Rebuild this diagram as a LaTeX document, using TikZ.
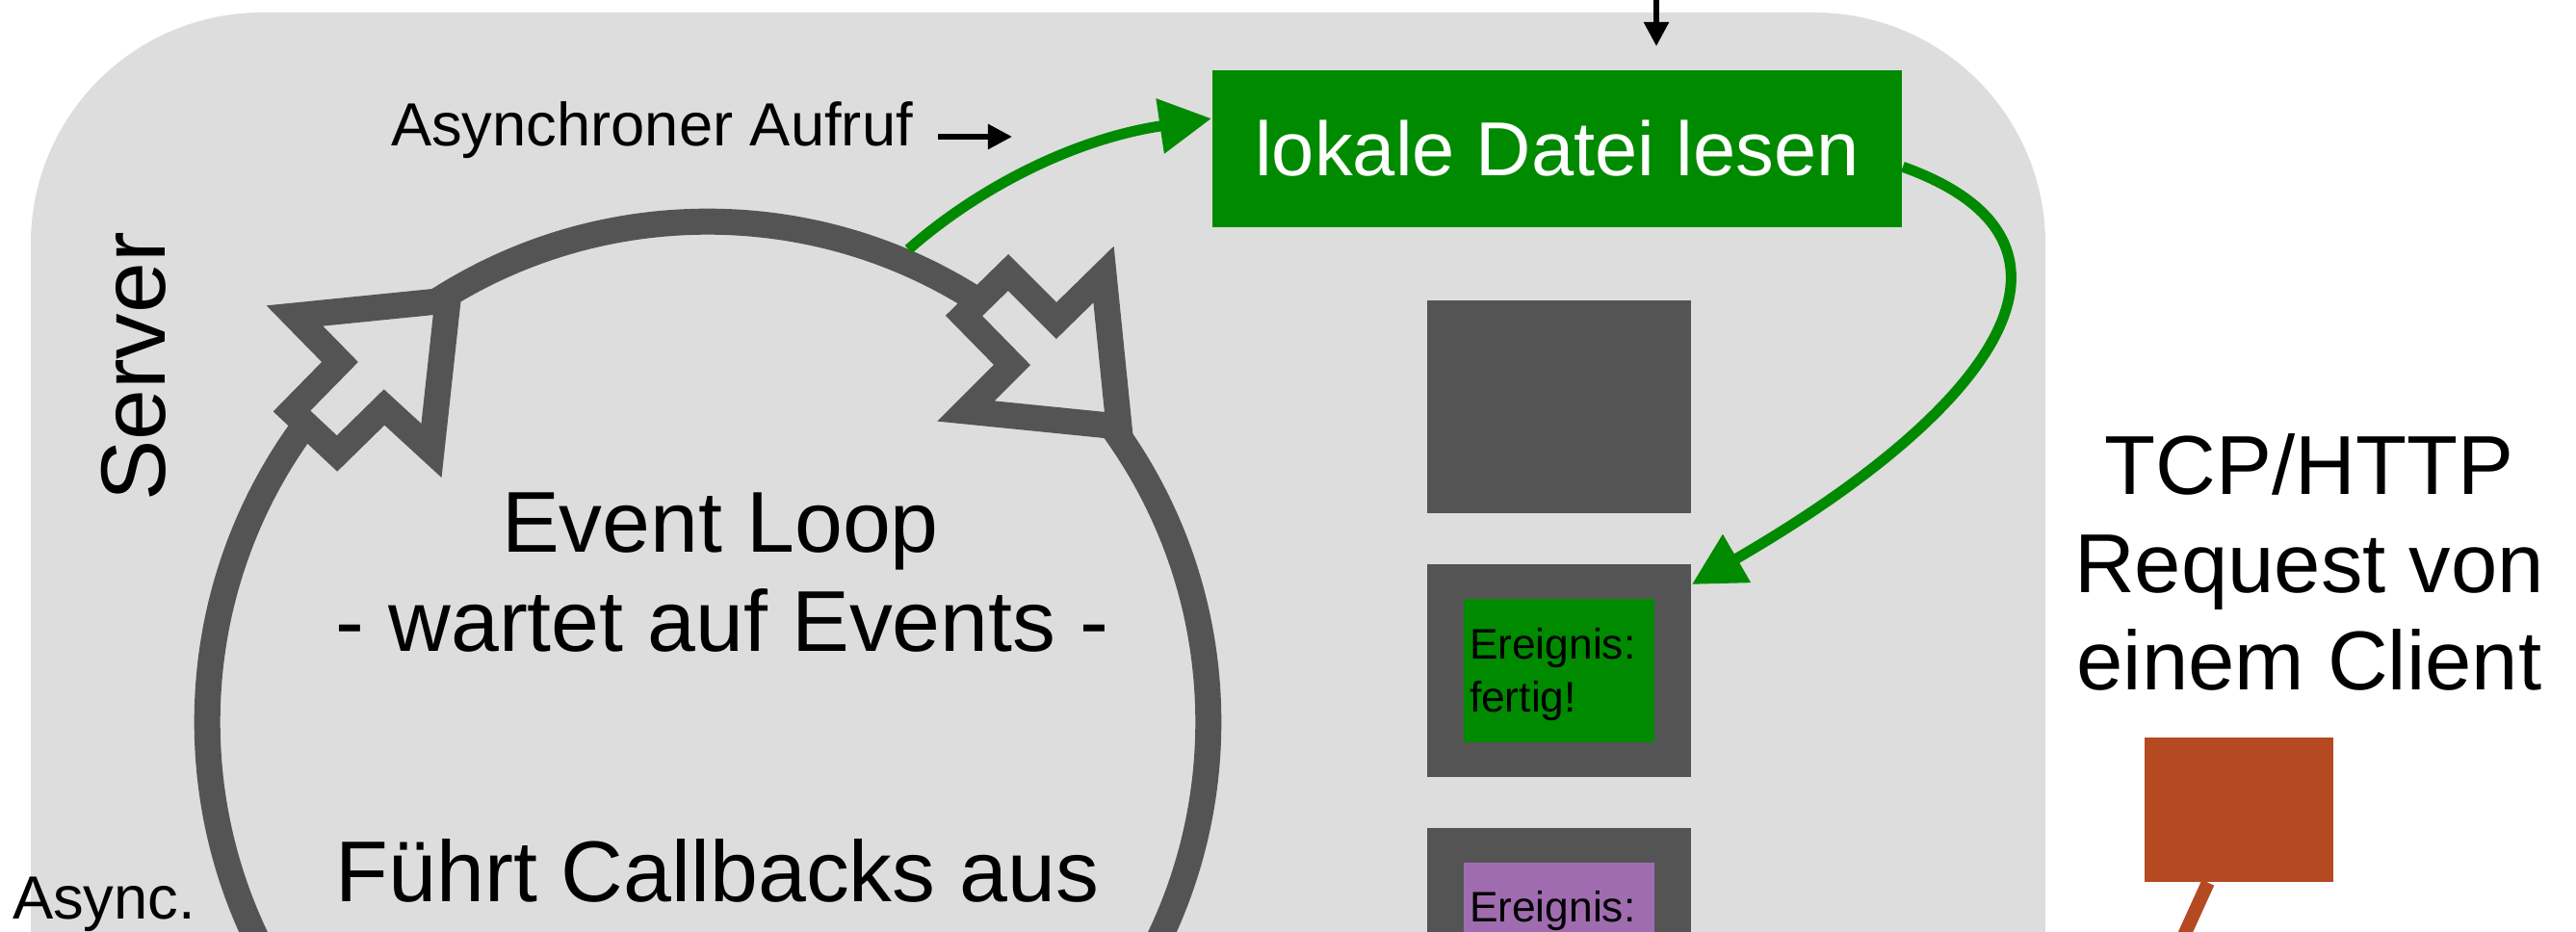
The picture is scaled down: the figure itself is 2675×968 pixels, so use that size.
\documentclass[tikz,border=0pt]{standalone}
\usepackage{fontspec}
\setmainfont{Liberation Sans}
\usetikzlibrary{arrows.meta}
\definecolor{panelgray}{RGB}{221,221,221}
\definecolor{loopgray}{RGB}{84,84,84}
\definecolor{arrgreen}{RGB}{0,138,0}
\definecolor{evpurple}{RGB}{160,108,176}
\definecolor{clientred}{RGB}{181,73,33}
\newcommand{\myfs}[1]{\fontsize{#1}{#1}\selectfont}
\begin{document}
\begin{tikzpicture}[x=0.01cm, y=-0.01cm,
  lbl/.style={inner sep=0pt, outer sep=0pt},
  loopring/.style={circle, draw=loopgray, line width=0.27cm, minimum size=10.39cm, inner sep=0pt},
  arrowshape/.style={fill=panelgray, draw=loopgray, line width=0.27cm, line join=miter},
  readbox/.style={rectangle, fill=arrgreen, text=white, minimum width=7.16cm, minimum height=1.63cm, inner sep=0pt, font=\myfs{22.6}},
  evbox/.style={rectangle, fill=loopgray, minimum width=2.74cm, minimum height=2.21cm, inner sep=0pt},
  evinner/.style={rectangle, minimum width=1.98cm, minimum height=1.49cm, inner sep=0pt},
  clientbox/.style={rectangle, fill=clientred, minimum width=1.96cm, minimum height=1.50cm, inner sep=0pt},
  greenarrow/.style={draw=arrgreen, line width=0.11cm, -{Triangle[length=0.54cm,width=0.55cm]}},
  blackarrow/.style={draw=black, line width=0.055cm, -{Triangle[length=0.25cm,width=0.25cm]}},
  bigtext/.style={lbl, anchor=base, font=\myfs{25.5}},
  tcptext/.style={lbl, anchor=base, font=\myfs{24.7}},
  evtext/.style={lbl, anchor=base west, font=\myfs{12.6}}
]
\useasboundingbox (0,0) rectangle (2675,968);
\clip (0,0) rectangle (2675,968);

% server panel
\fill[panelgray, rounded corners=2.4cm] (32,13) rectangle (2124,1400);

% event loop ring
\node[loopring] (loop) at (735,750) {};
\filldraw[arrowshape] (306,328) -- (465,312) -- (448,468) -- (399,423) -- (350,471) -- (303,427) -- (353,376) -- cycle;
\filldraw[arrowshape] (1001,328) -- (1047,283) -- (1097,333) -- (1146,285) -- (1162,443) -- (1003,427) -- (1051,379) -- cycle;

\node[bigtext] (evloop) at (748,574) {Event Loop};
\node[bigtext] (evwait) at (750,677) {- wartet auf Events -};
\node[bigtext] (evcb) at (745,937) {Führt Callbacks aus};

% labels
\node[lbl, anchor=base, rotate=90, font=\myfs{27}] (server) at (171,381) {Server};
\node[lbl, anchor=base west, font=\myfs{18}] (asyncl) at (13,955) {Async.};
\node[lbl, anchor=base, font=\myfs{18}] (asyncall) at (677,152) {Asynchroner Aufruf};
\coordinate (aa1) at (974,142);
\coordinate (aa2) at (1051,142);
\draw[blackarrow] (aa1) -- (aa2);

% file read box
\node[readbox] (read) at (1617,154.5) {lokale Datei lesen};
\coordinate (top1) at (1720,-5);
\coordinate (top2) at (1720,48);
\draw[blackarrow] (top1) -- (top2);

% event queue
\node[evbox] (ev1) at (1619,422.5) {};
\node[evbox] (ev2) at (1619,696.5) {};
\node[evinner, fill=arrgreen] (ev2in) at (1619,696.7) {};
\node[evtext] (ev2ta) at (1526,685) {Ereignis:};
\node[evtext] (ev2tb) at (1526,740) {fertig!};
\node[evbox] (ev3) at (1619,970.5) {};
\node[evinner, fill=evpurple] (ev3in) at (1619,970.5) {};
\node[evtext] (ev3ta) at (1526,958) {Ereignis:};

% green arrows
\draw[greenarrow] (loop.67.4) .. controls (1010,200) and (1110,145) .. (read.175.6);
\draw[greenarrow] (read.-3.8) .. controls (2190,250) and (2080,420) .. (ev2.33.2);

% client
\node[tcptext] (tcp1) at (2398,514) {TCP/HTTP};
\node[tcptext] (tcp2) at (2398,616) {Request von};
\node[tcptext] (tcp3) at (2398,717) {einem Client};
\node[clientbox] (client) at (2325,841) {};
\coordinate (clientout) at (2255,1000);
\draw[clientred, line width=0.14cm] (client.247.5) -- (clientout);
\end{tikzpicture}
\end{document}
